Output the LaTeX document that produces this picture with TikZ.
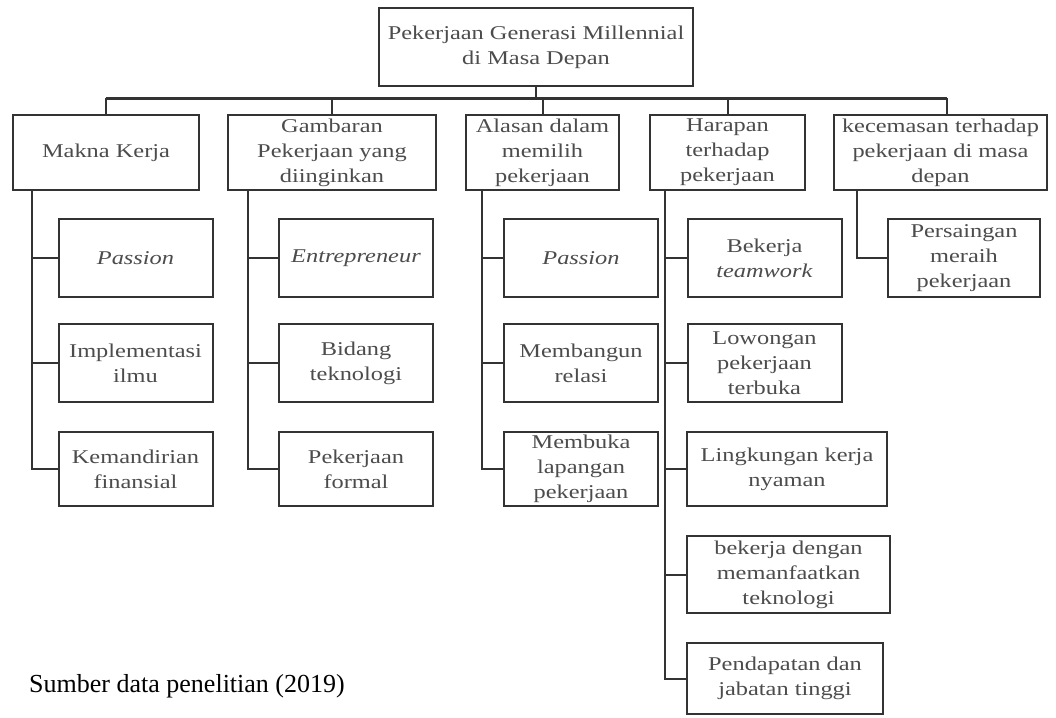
\documentclass[tikz,border=0pt]{standalone}
\usepackage{fontspec}
\setmainfont{Liberation Serif}
\newfontfamily\boxfont[FakeStretch=1.25]{Liberation Serif}
\usetikzlibrary{positioning}
\tikzset{
  box/.style={draw=black!80, line width=2pt, fill=white, text=black!70,
    font=\boxfont\fontsize{19.5}{25}\selectfont, align=center, inner sep=2pt},
  lvl/.style={box, minimum height=75},
  sub/.style={box, minimum width=154, minimum height=78},
  link/.style={draw=black!80, line width=2pt},
  bar/.style={draw=black!80, line width=3pt},
}
\begin{document}
\begin{tikzpicture}[x=1pt,y=-1pt]
  \useasboundingbox (0,0) rectangle (1056,717);
  % top
  \node[box, minimum width=314, minimum height=78] (root) at (536,47)
    {Pekerjaan Generasi Millennial\\di Masa Depan};
  % first level
  \node[lvl, minimum width=186] (mk) at (106,152.5) {Makna Kerja};
  \node[lvl, minimum width=208] (gp) at (332,152.5) {Gambaran\\Pekerjaan yang\\diinginkan};
  \node[lvl, minimum width=153] (al) at (542.5,152.5) {Alasan dalam\\memilih\\pekerjaan};
  \node[lvl, minimum width=155] (hp) at (727.5,152.5) {Harapan\\terhadap\\pekerjaan};
  \node[lvl, minimum width=213] (kc) at (940.5,152.5) {kecemasan terhadap\\pekerjaan di masa\\depan};
  \coordinate (barR) at (947,98);
  \draw[bar] (mk.north |- barR) -- (barR);
  \draw[link] (root.south) -- (root.south |- barR);
  \foreach \n in {mk,gp,al,hp}
    \draw[link] (\n.north) -- (\n.north |- barR);
  \draw[link] (barR) -- (barR |- kc.north);
  % Makna Kerja
  \node[sub] (m1) at (135.5,258) {\textit{Passion}};
  \node[sub] (m2) at (135.5,363) {Implementasi\\ilmu};
  \node[sub, minimum height=74] (m3) at (135.5,469) {Kemandirian\\finansial};
  % Gambaran
  \node[sub] (g1) at (356,258) {\textit{Entrepreneur}};
  \node[sub] (g2) at (356,363) {Bidang\\teknologi};
  \node[sub, minimum height=74] (g3) at (356,469) {Pekerjaan\\formal};
  % Alasan
  \node[sub] (a1) at (581,258) {\textit{Passion}};
  \node[sub] (a2) at (581,363) {Membangun\\relasi};
  \node[sub, minimum height=74] (a3) at (581,469) {Membuka\\lapangan\\pekerjaan};
  % Harapan
  \node[sub] (h1) at (764.5,258) {Bekerja\\\textit{teamwork}};
  \node[sub] (h2) at (764.5,363) {Lowongan\\pekerjaan\\terbuka};
  \node[sub, minimum width=200, minimum height=74] (h3) at (787,469) {Lingkungan kerja\\nyaman};
  \node[sub, minimum width=203, minimum height=77] (h4) at (788.5,574.5) {bekerja dengan\\memanfaatkan\\teknologi};
  \node[sub, minimum width=196, minimum height=71] (h5) at (785,678.5) {Pendapatan dan\\jabatan tinggi};
  % kecemasan
  \node[sub, minimum width=152] (k1) at (964,258) {Persaingan\\meraih\\pekerjaan};
  \coordinate (t1) at (32,190);
  \coordinate (t2) at (248,190);
  \coordinate (t3) at (482,190);
  \coordinate (t4) at (665,190);
  \coordinate (t5) at (857,190);
  \foreach \c in {m1,m2,m3} \draw[link] (t1) |- (\c.west);
  \foreach \c in {g1,g2,g3} \draw[link] (t2) |- (\c.west);
  \foreach \c in {a1,a2,a3} \draw[link] (t3) |- (\c.west);
  \foreach \c in {h1,h2,h3,h4,h5} \draw[link] (t4) |- (\c.west);
  \draw[link] (t5) |- (k1.west);
  \node[font=\fontsize{26}{30}\selectfont] (src) at (187,686) {Sumber data penelitian (2019)};
\end{tikzpicture}
\end{document}
